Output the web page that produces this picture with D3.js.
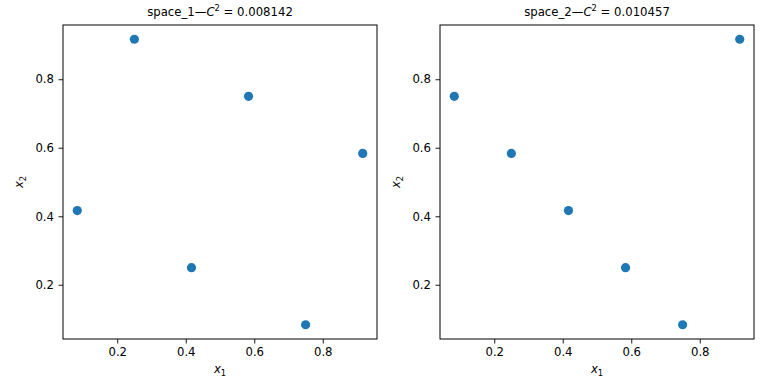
<!DOCTYPE html>
<html>
<head>
<meta charset="utf-8">
<script src="https://cdn.jsdelivr.net/npm/d3@7"></script>
<style>
  body { margin: 0; background: white; }
  text { font-family: "DejaVu Sans", sans-serif; }
</style>
</head>
<body>
<div id="d3-container"></div>
<script>
// Latin hypercube style designs, two spaces
let spaceNames = ['space_1', 'space_2'];
let c2Values = ['0.008142', '0.010457'];
let x1Space1 = [0.0833, 0.25, 0.4167, 0.5833, 0.75, 0.9167];
let x2Space1 = [0.4167, 0.9167, 0.25, 0.75, 0.0833, 0.5833];
let x1Space2 = [0.0833, 0.25, 0.4167, 0.5833, 0.75, 0.9167];
let x2Space2 = [0.75, 0.5833, 0.4167, 0.25, 0.0833, 0.9167];
let tickValues = [0.2, 0.4, 0.6, 0.8];

let W = 768, H = 384;
let svg = d3.select('#d3-container')
  .append('svg')
  .attr('width', W)
  .attr('height', H)
  .style('display', 'block');

let panels = [
  { left: 63, name: spaceNames[0], c2: c2Values[0], xs: x1Space1, ys: x2Space1 },
  { left: 440, name: spaceNames[1], c2: c2Values[1], xs: x1Space2, ys: x2Space2 },
];
let plotTop = 25, pw = 314, ph = 314;
let fs = 11.7, subFs = 8.3;

panels.forEach(function (p) {
  let allX = p.xs, allY = p.ys;
  let xmin = d3.min(allX), xmax = d3.max(allX);
  let ymin = d3.min(allY), ymax = d3.max(allY);
  let xpad = (xmax - xmin) * 0.05, ypad = (ymax - ymin) * 0.05;

  let xScale = d3.scaleLinear().domain([xmin - xpad, xmax + xpad]).range([0, pw]);
  let yScale = d3.scaleLinear().domain([ymin - ypad, ymax + ypad]).range([ph, 0]);

  let g = svg.append('g').attr('transform', 'translate(' + p.left + ',' + plotTop + ')');

  // axes
  let xAxis = g.append('g')
    .attr('transform', 'translate(0,' + ph + ')')
    .call(d3.axisBottom(xScale).tickValues(tickValues).tickFormat(d3.format('.1f')).tickSize(4.5).tickPadding(4.5));
  let yAxis = g.append('g')
    .call(d3.axisLeft(yScale).tickValues(tickValues).tickFormat(d3.format('.1f')).tickSize(4.5).tickPadding(4.5));
  [xAxis, yAxis].forEach(function (a) {
    a.select('.domain').remove();
    a.selectAll('text').style('font-size', fs + 'px').attr('fill', '#000')
      .style('font-family', '"DejaVu Sans", sans-serif');
    a.selectAll('line').attr('stroke', '#000').attr('stroke-width', 0.9);
  });

  // frame
  g.append('rect')
    .attr('width', pw)
    .attr('height', ph)
    .attr('fill', 'none')
    .attr('stroke', '#000')
    .attr('stroke-width', 1);

  // points
  g.selectAll('.pt')
    .data(d3.range(allX.length))
    .enter()
    .append('circle')
    .attr('class', 'pt')
    .attr('cx', function (i) { return xScale(allX[i]); })
    .attr('cy', function (i) { return yScale(allY[i]); })
    .attr('r', 4.6)
    .attr('fill', '#1f77b4');

  // title
  let t = g.append('text')
    .attr('x', pw / 2)
    .attr('y', -9.5)
    .attr('text-anchor', 'middle')
    .style('font-size', fs + 'px');
  t.append('tspan').text(p.name + '\u2014');
  t.append('tspan').attr('font-style', 'italic').text('C');
  t.append('tspan').attr('dy', -4.5).style('font-size', subFs + 'px').text('2');
  t.append('tspan').attr('dy', 4.5).text(' = ' + p.c2);

  // x label
  let xl = g.append('text')
    .attr('x', pw / 2)
    .attr('y', ph + 34)
    .attr('text-anchor', 'middle')
    .style('font-size', fs + 'px');
  xl.append('tspan').attr('font-style', 'italic').text('x');
  xl.append('tspan').attr('dy', 3).style('font-size', subFs + 'px').text('1');

  // y label
  let yl = g.append('text')
    .attr('transform', 'translate(-40,' + ph / 2 + ') rotate(-90)')
    .attr('text-anchor', 'middle')
    .style('font-size', fs + 'px');
  yl.append('tspan').attr('font-style', 'italic').text('x');
  yl.append('tspan').attr('dy', 3).style('font-size', subFs + 'px').text('2');
});
</script>
</body>
</html>
